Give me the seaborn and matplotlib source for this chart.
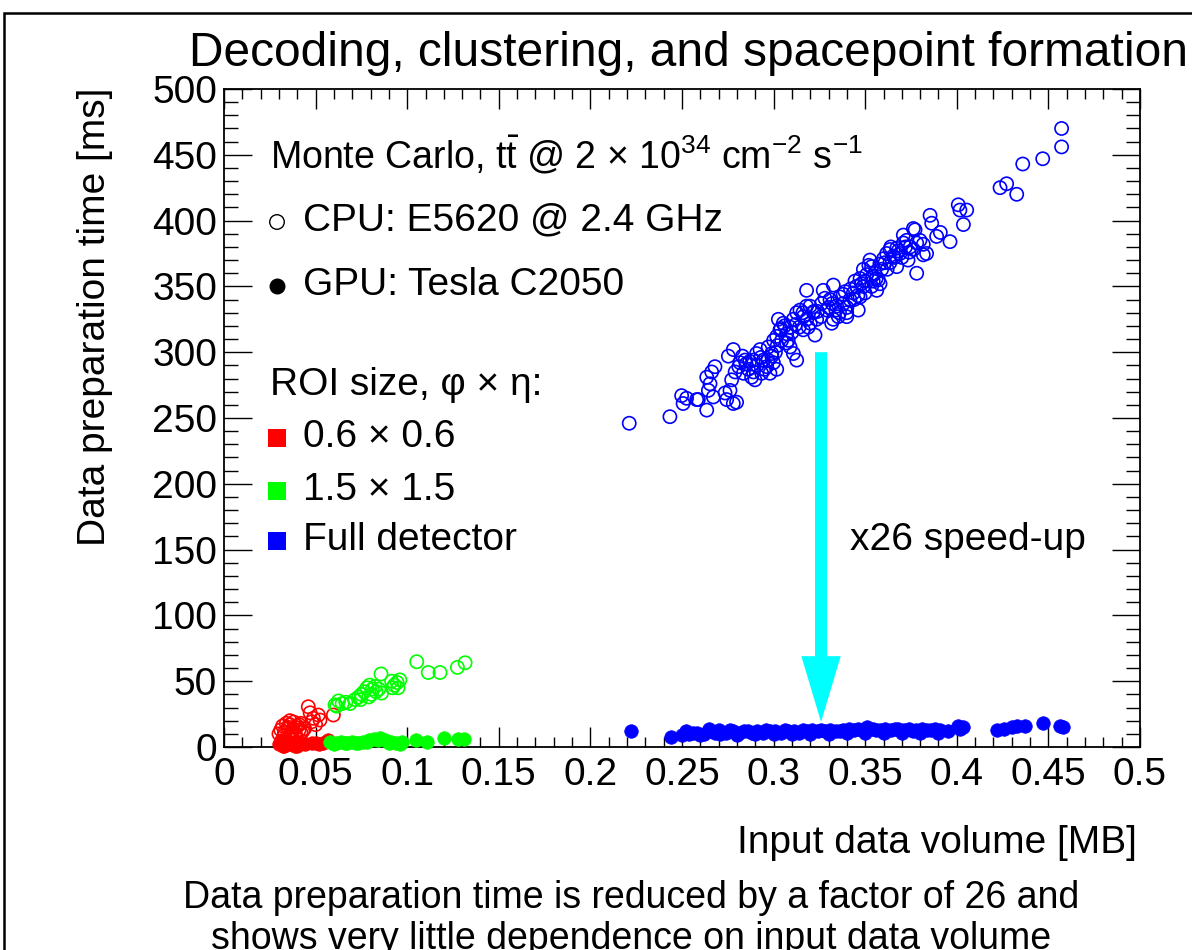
import numpy as np
import pandas as pd
import matplotlib
matplotlib.use("Agg")
import matplotlib.pyplot as plt
from matplotlib.patches import Rectangle
from matplotlib.ticker import MultipleLocator, FuncFormatter
import seaborn as sns

# ---------------- data ----------------
cpu_full_x = [0.2212, 0.2434, 0.2498, 0.2525, 0.2506, 0.2589, 0.2635,
              0.2580, 0.2635, 0.2653, 0.2662, 0.2680, 0.2644, 0.2671,
              0.2735, 0.2762, 0.2780, 0.2798, 0.2744, 0.2771, 0.2753, 0.2780,
              0.2817, 0.2844, 0.2862, 0.2880, 0.2835, 0.2898, 0.2907, 0.2926, 0.2944, 0.2962,
              0.2980, 0.2999, 0.3017, 0.2935, 0.2990, 0.2971, 0.2889,
              0.3026, 0.3035, 0.3053, 0.3071, 0.3090, 0.3108, 0.3126, 0.3144, 0.3162, 0.3181,
              0.3199, 0.3217, 0.3235, 0.3126, 0.3108, 0.3071, 0.3090, 0.3162, 0.3189, 0.3226,
              0.3017, 0.3044,
              0.3180, 0.3271, 0.3326,
              0.3262, 0.3290, 0.3308, 0.3326, 0.3344, 0.3362, 0.3381, 0.3399, 0.3417, 0.3435,
              0.3453, 0.3399, 0.3317, 0.3353, 0.3390, 0.3462,
              0.3444, 0.3472, 0.3490, 0.3508, 0.3526, 0.3535, 0.3553, 0.3572, 0.3590, 0.3608,
              0.3490, 0.3535, 0.3563, 0.3581, 0.3472, 0.3499, 0.3544,
              0.3617, 0.3635, 0.3653, 0.3672, 0.3690, 0.3708, 0.3726, 0.3745, 0.3763, 0.3781,
              0.3799, 0.3817, 0.3708, 0.3763, 0.3635, 0.3672, 0.3734, 0.3781, 0.3835,
              0.3772, 0.3854, 0.3863, 0.3890, 0.3910, 0.3963, 0.3817, 0.4008, 0.4017, 0.4054,
              0.4036, 0.4236, 0.4272, 0.4327, 0.4360, 0.4469, 0.4572, 0.4572,
              0.2790, 0.2810, 0.2830, 0.2850, 0.2870, 0.2890, 0.2910, 0.2930, 0.2950, 0.2970,
              0.2990, 0.3010, 0.3000, 0.3020, 0.3040, 0.3060, 0.3080, 0.3100, 0.3120, 0.3140,
              0.3160, 0.3180, 0.3200, 0.3220, 0.3240, 0.3260, 0.3280, 0.3300, 0.3320, 0.3340,
              0.3360, 0.3380, 0.3400, 0.3420, 0.3440, 0.3460, 0.3480, 0.3500, 0.3520, 0.3540,
              0.3560, 0.3580, 0.3600, 0.3620, 0.3640, 0.3660, 0.3680, 0.3700, 0.3720, 0.3740]
cpu_full_y = [246, 251, 267, 265, 261, 264, 256,
              264, 281, 276, 285, 289, 271, 266,
              269, 271, 261, 262, 264, 279, 297, 302,
              292, 294, 287, 281, 284, 279, 299, 302, 294, 289,
              284, 292, 287, 284, 299, 304, 294,
              325, 317, 322, 314, 319, 325, 330, 332, 327, 325,
              335, 330, 325, 294, 299, 307, 304, 317, 319, 313,
              312, 309,
              347, 347, 351,
              337, 332, 340, 325, 335, 342, 337, 330, 340, 345,
              350, 327, 322, 327, 346, 332,
              354, 356, 363, 359, 370, 365, 360, 355, 363, 368,
              350, 350, 347, 352, 342, 345, 354,
              375, 378, 373, 379, 375, 383, 385, 380, 378, 383,
              385, 382, 389, 394, 368, 365, 370, 360, 375,
              393, 404, 398, 388, 391, 384, 374, 412, 408, 408,
              397, 425, 428, 420, 443, 447, 470, 456,
              285, 289, 297, 291, 293, 285, 290, 296, 287, 294,
              297, 300, 309, 305, 318, 320, 309, 315, 321, 319,
              330, 335, 322, 331, 331, 327, 341, 334, 337, 332,
              330, 344, 334, 348, 340, 343, 352, 354, 366, 358,
              356, 367, 371, 363, 380, 372, 377, 372, 380, 376]

gpu_full_x = [0.222, 0.244,
              0.250, 0.254, 0.258, 0.262, 0.265, 0.268, 0.271, 0.274, 0.278, 0.281,
              0.284, 0.288, 0.291, 0.294, 0.298, 0.301, 0.304, 0.308, 0.311, 0.314,
              0.318, 0.321, 0.324, 0.328, 0.331, 0.334, 0.338, 0.341, 0.344, 0.348,
              0.351, 0.354, 0.358, 0.361, 0.364, 0.368, 0.371, 0.374, 0.378, 0.381,
              0.384, 0.388, 0.391,
              0.252, 0.260, 0.270, 0.280, 0.290, 0.300, 0.310, 0.320, 0.330, 0.340,
              0.350, 0.360, 0.370, 0.380, 0.390, 0.395,
              0.256, 0.266, 0.276, 0.286, 0.296, 0.306, 0.316, 0.326, 0.336, 0.346,
              0.356, 0.366, 0.376, 0.386,
              0.4008, 0.4035, 0.402, 0.422, 0.426, 0.430, 0.433, 0.437, 0.4469, 0.4563, 0.458]
gpu_full_y = [12.2, 7.4,
              9, 10, 11, 10, 14, 11, 10, 11, 12, 11,
              12, 11, 12, 11, 12, 12, 11, 12, 12, 11,
              12, 13, 12, 12, 13, 12, 13, 14, 13, 13,
              15, 14, 13, 14, 13, 14, 13, 14, 13, 14,
              13, 14, 13,
              12, 9, 13, 9, 10, 10, 10, 10, 10, 11,
              11, 11, 11, 11, 11, 12,
              11, 12, 13, 12, 13, 13, 13, 13, 12, 14,
              13, 14, 12, 13,
              16.2, 15.4, 14, 13, 14, 15, 16, 16, 18, 16.2, 15]

cpu_roi06_x = [0.030, 0.031, 0.032, 0.033, 0.034, 0.035, 0.036, 0.037, 0.038, 0.039,
               0.040, 0.041, 0.042, 0.043, 0.044, 0.033, 0.036, 0.039, 0.042, 0.035,
               0.038, 0.041,
               0.046, 0.0488, 0.0515, 0.0524, 0.0479, 0.0597, 0.050, 0.047]
cpu_roi06_y = [10, 13, 16, 11, 18, 14, 17, 12, 19, 15,
               16, 13, 18, 12, 14, 9, 20, 10, 11, 15,
               13, 17,
               30.6, 21.8, 24.3, 20.5, 19.2, 24.3, 17, 26]

gpu_roi06_x = [0.030, 0.032, 0.034, 0.036, 0.038, 0.040, 0.042, 0.044, 0.031, 0.035,
               0.039, 0.043, 0.033, 0.037, 0.041, 0.048, 0.050, 0.052, 0.054, 0.057]
gpu_roi06_y = [2, 1, 3, 2, 4, 1, 3, 2, 5, 4,
               1, 3, 1, 2, 4, 3, 3, 2, 3, 5]

cpu_roi15_x = [0.0606, 0.0625, 0.0645, 0.0665, 0.0688, 0.0615,
               0.0715, 0.0735, 0.0750, 0.0745, 0.0765, 0.0780, 0.0795, 0.0810, 0.0825,
               0.0790, 0.0805, 0.0830, 0.0845, 0.0860,
               0.0857, 0.0915, 0.0930, 0.0945, 0.0960, 0.0920, 0.0950,
               0.1052, 0.1115, 0.1179, 0.1274, 0.1316]
cpu_roi15_y = [32, 35, 33, 34, 33, 31,
               36, 38, 40, 36, 42, 45, 47, 44, 46,
               38, 40, 42, 44, 41,
               55.5, 50, 47, 49, 51, 45, 45,
               64.8, 56.6, 56.6, 60.5, 64]

gpu_roi15_x = [0.058, 0.061, 0.064, 0.067, 0.070, 0.073, 0.076, 0.079, 0.082, 0.085,
               0.088, 0.091, 0.094, 0.097, 0.060, 0.066, 0.072, 0.078, 0.084, 0.090,
               0.096, 0.105, 0.111, 0.120, 0.128, 0.131]
gpu_roi15_y = [4, 3, 4, 3, 4, 3, 4, 5, 6, 7,
               5, 4, 3, 4, 2, 3, 3, 4, 5, 3,
               2, 5, 4, 7, 6, 6]

roi_labels = ["0.6 \u00d7 0.6", "1.5 \u00d7 1.5", "Full detector"]
roi_colors = ["#ff0000", "#00ff00", "#0000ff"]

arrow_x = 0.3259
arrow_from = 300
arrow_to = 19

# ---------------- style ----------------
sns.set_theme(style="white")
plt.rcParams["font.family"] = ["Liberation Sans", "DejaVu Sans"]
plt.rcParams["mathtext.fontset"] = "custom"
plt.rcParams["mathtext.rm"] = "Liberation Sans"
plt.rcParams["mathtext.it"] = "Liberation Sans:italic"
plt.rcParams["mathtext.bf"] = "Liberation Sans:bold"

W, H = 1192, 950
fig = plt.figure(figsize=(W / 100, H / 100), dpi=100)
fig.patch.set_facecolor("white")

L, R, T, B = 224, 1140, 89, 747
ax = fig.add_axes([L / W, 1 - B / H, (R - L) / W, (B - T) / H])
ax.set_facecolor("white")

def fx(px):
    return px / W

def fy(py):
    return 1 - py / H

# outer frame
fig.patches.append(Rectangle((4 / W, -0.1), 1.2, 1.1 - 13 / H, transform=fig.transFigure,
                             fill=False, edgecolor="black", linewidth=1.8, clip_on=False))

ms_open = 90
ms_fill = 95
series = [
    (cpu_roi06_x, cpu_roi06_y, gpu_roi06_x, gpu_roi06_y, roi_colors[0]),
    (cpu_roi15_x, cpu_roi15_y, gpu_roi15_x, gpu_roi15_y, roi_colors[1]),
    (cpu_full_x, cpu_full_y, gpu_full_x, gpu_full_y, roi_colors[2]),
]
for cx, cy, gx, gy, col in series:
    sns.scatterplot(x=cx, y=cy, ax=ax, marker="o", s=ms_open, facecolor="none",
                    edgecolor=col, linewidth=1.2, legend=False, clip_on=False, zorder=3)
    sns.scatterplot(x=gx, y=gy, ax=ax, marker="o", s=ms_fill, color=col,
                    edgecolor=col, linewidth=0.5, legend=False, clip_on=False, zorder=3)

# cyan arrow
ax.arrow(arrow_x, arrow_from, 0, arrow_to - arrow_from, width=0.0066,
         head_width=0.0215, head_length=50, length_includes_head=True,
         color="#00ffff", linewidth=0, zorder=4)

ax.set_xlim(0, 0.5)
ax.set_ylim(0, 500)
ax.xaxis.set_major_locator(MultipleLocator(0.05))
ax.xaxis.set_minor_locator(MultipleLocator(0.01))
ax.yaxis.set_major_locator(MultipleLocator(50))
ax.yaxis.set_minor_locator(MultipleLocator(10))

def xfmt(v, pos):
    return f"{v:.2f}".rstrip("0").rstrip(".")
ax.xaxis.set_major_formatter(FuncFormatter(xfmt))
ax.yaxis.set_major_formatter(FuncFormatter(lambda v, p: f"{int(round(v))}"))

for sp in ax.spines.values():
    sp.set_color("black")
    sp.set_linewidth(1.3)
    sp.set_visible(True)

tfs = 28
ax.tick_params(axis="x", which="major", direction="in", length=14.5, width=1.0,
               top=True, bottom=True, labelsize=tfs, pad=7, color="black", labelcolor="black")
ax.tick_params(axis="x", which="minor", direction="in", length=7.2, width=1.0,
               top=True, bottom=True, color="black")
ax.tick_params(axis="y", which="major", direction="in", length=20, width=1.0,
               left=True, right=True, labelsize=tfs, pad=5, color="black", labelcolor="black")
ax.tick_params(axis="y", which="minor", direction="in", length=10, width=1.0,
               left=True, right=True, color="black")
ax.set_xlabel("")
ax.set_ylabel("")

fs = 28
# title and axis titles
fig.text(fx(688), fy(54), "Decoding, clustering, and spacepoint formation",
         ha="center", va="center", fontsize=34.5, color="black")
fig.text(fx(95), fy(88), "Data preparation time [ms]", rotation=90,
         ha="center", va="top", fontsize=fs, color="black")
fig.text(fx(1137), fy(843), "Input data volume [MB]", ha="right", va="center",
         fontsize=fs, color="black")

# in-plot legend
fig.text(fx(270), fy(155),
         r"Monte Carlo, t$\bar{\mathrm{t}}$ @ 2 $\times$ 10$^{34}$ cm$^{-2}$ s$^{-1}$",
         ha="left", va="center", fontsize=27, color="black")
fig.text(fx(303), fy(220), "CPU: E5620 @ 2.4 GHz", ha="left", va="center",
         fontsize=fs, color="black")
fig.text(fx(303), fy(285), "GPU: Tesla C2050", ha="left", va="center",
         fontsize=fs, color="black")
fig.text(fx(270), fy(385), "ROI size, \u03c6 \u00d7 \u03b7:", ha="left", va="center",
         fontsize=fs, color="black")
for lab, yy in zip(roi_labels, [437, 490, 540]):
    fig.text(fx(303), fy(yy), lab, ha="left", va="center", fontsize=fs, color="black")

def axfrac(px, py):
    return (px - L) / (R - L), (B - py) / (B - T)

mx, my = axfrac(277, 222)
ax.scatter([mx], [my], transform=ax.transAxes, s=110, marker="o",
           facecolor="none", edgecolor="black", linewidth=1.0, clip_on=False, zorder=5)
mx, my = axfrac(277, 286)
ax.scatter([mx], [my], transform=ax.transAxes, s=110, marker="o",
           color="black", clip_on=False, zorder=5)
for col, yy in zip(roi_colors, [438, 491, 541]):
    mx, my = axfrac(277, yy)
    ax.scatter([mx], [my], transform=ax.transAxes, s=150, marker="s",
               color=col, linewidth=0, clip_on=False, zorder=5)

fig.text(fx(850), fy(540), "x26 speed-up", ha="left", va="center", fontsize=fs, color="black")

# caption
cfs = 27
fig.text(fx(631), fy(898), "Data preparation time is reduced by a factor of 26 and",
         ha="center", va="center", fontsize=cfs, color="black")
fig.text(fx(631), fy(939), "shows very little dependence on input data volume",
         ha="center", va="center", fontsize=cfs, color="black")

fig.savefig("out.png", dpi=100, facecolor="white")
